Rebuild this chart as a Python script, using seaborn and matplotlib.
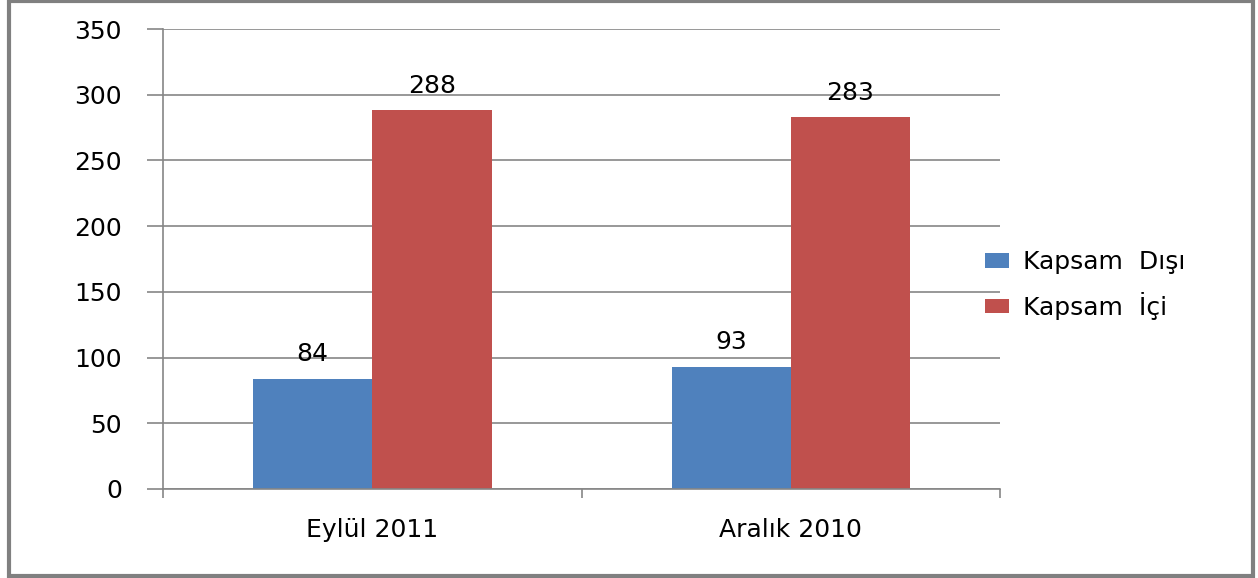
import pandas as pd
import matplotlib.pyplot as plt
from matplotlib.patches import Rectangle
import seaborn as sns

# data
periods = ['Eylül 2011', 'Aralık 2010']
series = ['Kapsam  Dışı', 'Kapsam  İçi']
disi_values = [84, 93]
ici_values = [288, 283]
yticks = [0, 50, 100, 150, 200, 250, 300, 350]

colors = ['#4F81BD', '#C0504D']
grey = '#868686'


def main():
    df = pd.DataFrame({
        'period': periods * 2,
        'series': [series[0]] * 2 + [series[1]] * 2,
        'value': disi_values + ici_values,
    })

    sns.set_style('white')
    plt.rcParams['font.family'] = ['DejaVu Sans']
    plt.rcParams['text.color'] = 'black'

    fig = plt.figure(figsize=(12.58, 5.78), dpi=100)
    ax = fig.add_axes([0.1296, 0.154, 0.6654, 0.7958])

    sns.barplot(data=df, x='period', y='value', hue='series', order=periods,
                hue_order=series, palette=colors, width=0.57, saturation=1,
                linewidth=0, ax=ax, legend=True)

    # value labels above each bar
    for cont in ax.containers:
        ax.bar_label(cont, fmt='%d', padding=9, fontsize=18, color='black')

    ax.set_ylim(0, 350)
    ax.set_xlim(-0.5, 1.5)
    ax.set_yticks(yticks)
    ax.set_yticklabels([str(t) for t in yticks], fontsize=18)
    ax.set_xlabel('')
    ax.set_ylabel('')
    ax.tick_params(axis='y', length=11.5, width=1.2, color=grey, pad=18, left=True,
                   labelcolor='black')
    ax.tick_params(axis='x', length=0, pad=21, labelsize=18, labelcolor='black')
    ax.set_xticks([-0.5, 0.5, 1.5], minor=True)
    ax.tick_params(axis='x', which='minor', length=6.5, width=1.2, color=grey, bottom=True)

    ax.yaxis.grid(True, color=grey, linewidth=1.2)
    ax.set_axisbelow(True)
    for side in ['top', 'right']:
        ax.spines[side].set_visible(False)
    for side in ['left', 'bottom']:
        ax.spines[side].set_color(grey)
        ax.spines[side].set_linewidth(1.2)

    handles, labels = ax.get_legend_handles_labels()
    ax.legend(handles, labels, loc='center left', bbox_to_anchor=(0.982, 0.443),
              frameon=False, fontsize=18, handlelength=0.95, handleheight=0.5,
              labelspacing=0.7, handletextpad=0.55, borderaxespad=0.0,
              borderpad=0.0, labelcolor='black')

    # outer chart border
    fig.patches.append(Rectangle((0.007, 0.004), 0.989, 0.994, transform=fig.transFigure,
                                 fill=False, edgecolor='#808080', linewidth=3))

    fig.savefig('out.png', dpi=100)
    plt.close(fig)


if __name__ == '__main__':
    main()
